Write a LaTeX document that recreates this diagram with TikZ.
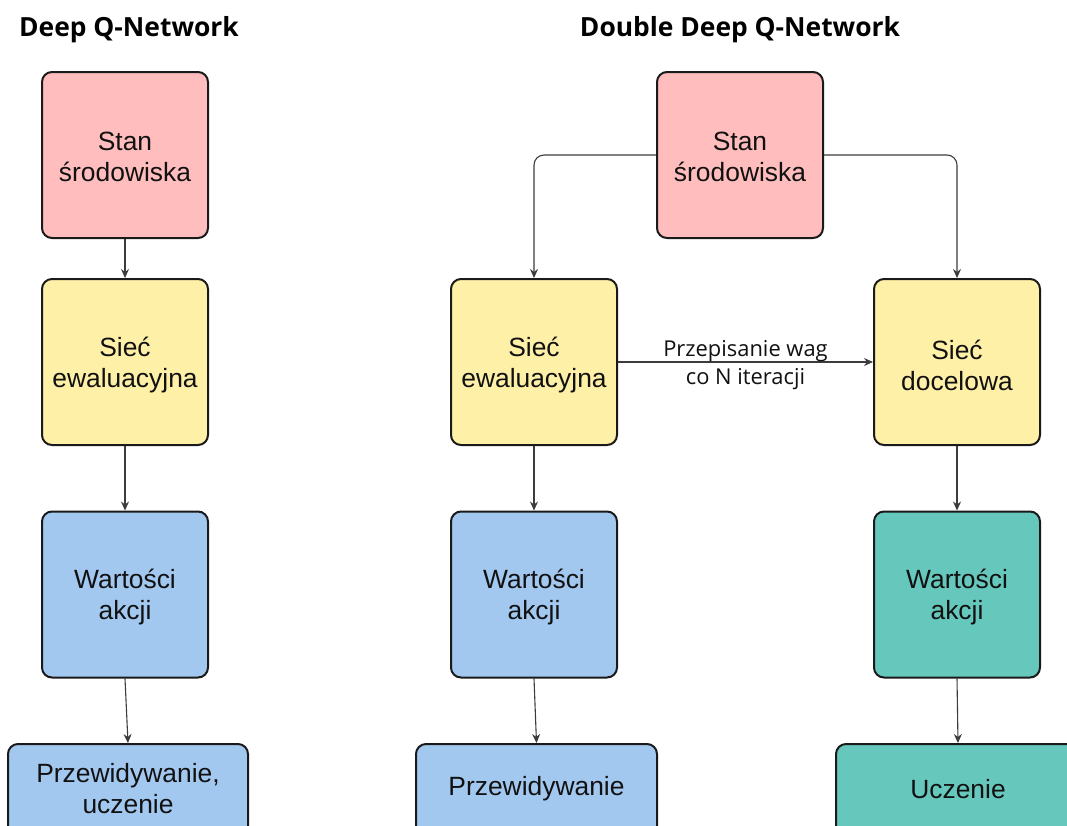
\documentclass[tikz,border=0pt]{standalone}
\usepackage{fontspec}
\setmainfont{Liberation Sans}
\newfontfamily\labfont{Open Sans}
\usetikzlibrary{arrows.meta}
\definecolor{cpink}{HTML}{FFBDBD}
\definecolor{cyellow}{HTML}{FFF0A8}
\definecolor{cblue}{HTML}{A3C8F0}
\definecolor{cteal}{HTML}{66C8BD}
\definecolor{cline}{HTML}{1A1A1A}
\definecolor{ctext}{HTML}{111111}
\tikzset{
  btxt/.style={font=\fontsize{26.4}{31}\selectfont, text=ctext, align=center},
  box/.style={draw=cline, line width=2pt, rounded corners=10pt, inner sep=0pt},
  sq/.style={box, minimum width=166pt, minimum height=166pt},
  arr/.style={draw=cline!85, line width=1.1pt, -{Stealth[length=9pt,width=8pt]}},
  ttl/.style={font=\labfont\bfseries\fontsize{26.4}{30}\selectfont, text=black},
  lab/.style={font=\labfont\fontsize{21.9}{28}\selectfont, text=ctext, align=center}
}
\begin{document}
\begin{tikzpicture}[x=1pt,y=-1pt]
\useasboundingbox (0,0) rectangle (1067,825);
\clip (0,0) rectangle (1067,825);
\fill[white] (0,0) rectangle (1067,825);
% titles
\node[ttl] (t1) at (129,30) {Deep Q-Network};
\node[ttl] (t2) at (740,30) {Double Deep Q-Network};
% left column
\node[sq, fill=cpink] (s1) at (125,155) {};
\node[sq, fill=cyellow] (e1) at (125,362) {};
\node[sq, fill=cblue] (w1) at (125,594.5) {};
\node[box, fill=cblue, minimum width=240pt, minimum height=120pt] (p1) at (128,804) {};
% middle / right
\node[sq, fill=cpink] (s2) at (740,155) {};
\node[sq, fill=cyellow] (e2) at (534,362) {};
\node[sq, fill=cyellow] (d2) at (957,362) {};
\node[sq, fill=cblue] (w2) at (534,594.5) {};
\node[sq, fill=cteal] (w3) at (957,594.5) {};
\node[box, fill=cblue, minimum width=241pt, minimum height=120pt] (p2) at (536.5,804) {};
\node[box, fill=cteal, minimum width=244pt, minimum height=120pt] (u3) at (958,804) {};
% texts
\node[btxt] (s1t) at (125,157) {Stan\\środowiska};
\node[btxt] (e1t) at (125,365) {Sieć\\ewaluacyjna};
\node[btxt] (w1t) at (125,597) {Wartości\\akcji};
\node[btxt] (s2t) at (740,157) {Stan\\środowiska};
\node[btxt] (e2t) at (534,365) {Sieć\\ewaluacyjna};
\node[btxt] (d2t) at (957,365) {Sieć\\docelowa};
\node[btxt] (w2t) at (534,597) {Wartości\\akcji};
\node[btxt] (w3t) at (957,597) {Wartości\\akcji};
\node[btxt] (p1t) at (128,789) {Przewidywanie,\\uczenie};
\node[btxt] (p2t) at (536.5,789) {Przewidywanie};
\node[btxt] (u3t) at (958,789) {Uczenie};
% connectors
\draw[arr] (s1) -- (e1);
\draw[arr] (e1) -- (w1);
\draw[arr] (w1.south) -- (p1.north);
\draw[arr, rounded corners=10pt] (s2.west) -| (e2.north);
\draw[arr, rounded corners=10pt] (s2.east) -| (d2.north);
\draw[arr] (e2.east) -- (d2.west) node[lab, midway, yshift=-3pt] (lb) {Przepisanie wag\\co N iteracji};
\draw[arr] (e2) -- (w2);
\draw[arr] (d2) -- (w3);
\draw[arr] (w2.south) -- (p2.north);
\draw[arr] (w3.south) -- (u3.north);
\end{tikzpicture}
\end{document}
